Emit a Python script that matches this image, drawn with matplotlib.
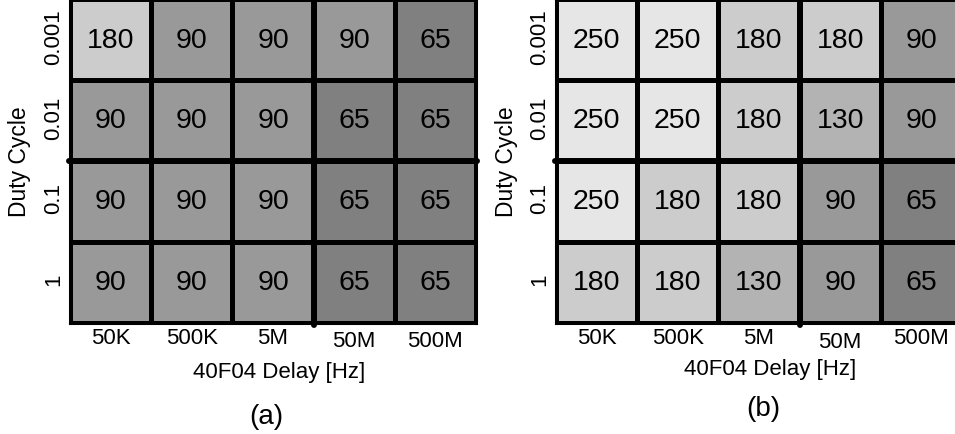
import matplotlib
matplotlib.use("Agg")
import matplotlib.pyplot as plt
from matplotlib.colors import ListedColormap, BoundaryNorm
from matplotlib.transforms import ScaledTranslation
import numpy as np

plt.rcParams['font.family'] = ['Liberation Sans', 'DejaVu Sans']

x_labels = ["50K", "500K", "5M", "50M", "500M"]
y_labels = ["0.001", "0.01", "0.1", "1"]
x_title = "40F04 Delay [Hz]"
y_title = "Duty Cycle"

values_a = [[180, 90, 90, 90, 65],
            [90, 90, 90, 65, 65],
            [90, 90, 90, 65, 65],
            [90, 90, 90, 65, 65]]
values_b = [[250, 250, 180, 180, 90],
            [250, 250, 180, 130, 90],
            [250, 180, 180, 90, 65],
            [180, 180, 130, 90, 65]]

grays = ["#808080", "#999999", "#b3b3b3", "#cccccc", "#e6e6e6"]
cmap = ListedColormap(grays)
norm = BoundaryNorm([0, 77, 110, 155, 215, 400], cmap.N)

W, H = 955, 435
fig = plt.figure(figsize=(W / 100, H / 100), dpi=100)


def panel(left_px, vals, xlab_pos, cap, cap_pos, ylab_x, shifts):
    ax = fig.add_axes([left_px / W, (H - 324) / H, 406 / W, 324 / H])
    data = np.array(vals)
    nr, nc = data.shape
    ax.pcolormesh(np.arange(nc + 1), np.arange(nr + 1), data, cmap=cmap,
                  norm=norm, edgecolors='black', linewidth=2.2)
    ax.set_xlim(0, nc)
    ax.set_ylim(nr, 0)
    for i in range(nr):
        for j in range(nc):
            ax.text(j + 0.5, i + 0.5, str(data[i, j]), ha='center',
                    va='center', fontsize=20.5, color='black')
    for s in ax.spines.values():
        s.set_linewidth(2.2)
    ax.set_xticks(np.arange(nc) + 0.5)
    ax.set_xticklabels(x_labels, fontsize=16)
    ax.set_yticks(np.arange(nr) + 0.5)
    ax.set_yticklabels(y_labels, fontsize=16, rotation=90, va='center')
    ax.tick_params(length=0)
    ax.tick_params(axis='x', pad=3)
    ax.tick_params(axis='y', pad=4)
    for lab, dy in zip(ax.get_xticklabels(), shifts):
        if dy:
            lab.set_transform(lab.get_transform() +
                              ScaledTranslation(0, -dy / 100, fig.dpi_scale_trans))
    for lab in ax.get_yticklabels():
        lab.set_transform(lab.get_transform() +
                          ScaledTranslation(0, 3.5 / 100, fig.dpi_scale_trans))
    # thick separators
    ax.plot([-0.01, nc + 0.01], [2, 2], color='black', lw=4.3,
            solid_capstyle='round', clip_on=False, zorder=5)
    ax.plot([3, 3], [0, nr + 0.02], color='black', lw=4.3,
            solid_capstyle='round', clip_on=False, zorder=5)
    ax.set_xlabel(x_title, fontsize=16)
    ax.xaxis.label.set_va('center')
    ax.xaxis.set_label_coords(*xlab_pos)
    ax.set_ylabel(y_title, fontsize=16.5)
    ax.yaxis.label.set_va('center')
    ax.yaxis.set_label_coords(ylab_x, 0.5)
    fig.text(cap_pos[0] / W, 1 - cap_pos[1] / H, cap, ha='center',
             va='center', fontsize=20)
    return ax


panel(70, values_a, ((279 - 70) / 406, -49 / 324), "(a)", (266, 417),
      (20 - 70) / 406, [0, 0, 0, 3, 3])
panel(556, values_b, ((770 - 556) / 406, -46 / 324), "(b)", (763, 409),
      (507 - 556) / 406, [0, 0, 0, 4, 0])

fig.savefig("out.png", dpi=100)
